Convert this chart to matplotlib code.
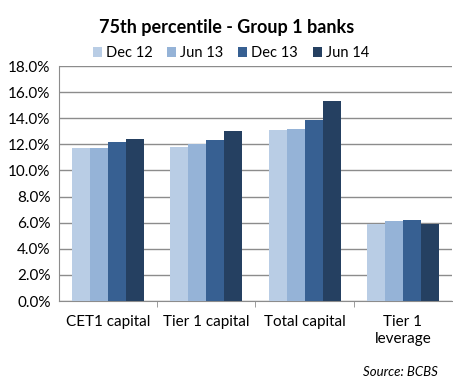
import numpy as np
import matplotlib
matplotlib.use("Agg")
import matplotlib.pyplot as plt

plt.rcParams['font.family'] = ['Lato', 'DejaVu Sans']

categories = ["CET1 capital", "Tier 1 capital", "Total capital", "Tier 1\nleverage"]
series = ["Dec 12", "Jun 13", "Dec 13", "Jun 14"]
dec12 = [11.7, 11.8, 13.1, 5.9]
jun13 = [11.7, 12.0, 13.2, 6.1]
dec13 = [12.2, 12.3, 13.9, 6.2]
jun14 = [12.4, 13.0, 15.3, 5.9]
values = [dec12, jun13, dec13, jun14]
colors = ["#b9cde5", "#95b3d7", "#376092", "#254061"]

fig = plt.figure(figsize=(4.53, 3.86), dpi=100)
ax = fig.add_axes([0.130, 0.220, 0.868, 0.609])

x = np.arange(len(categories))
w = 0.73 / 4
for i, (name, vals) in enumerate(zip(series, values)):
    ax.bar(x - 0.365 + w * (i + 0.5), vals, width=w, color=colors[i], label=name, zorder=3)

ax.set_xlim(-0.5, 3.5)
ax.set_ylim(0, 18)
ax.set_yticks(np.arange(0, 18.1, 2))
ax.set_yticklabels([f"{v:.1f}%" for v in np.arange(0, 18.1, 2)], fontsize=11)
ax.yaxis.grid(True, color="#8c8c8c", linewidth=1, zorder=0)
ax.tick_params(axis="y", length=0, pad=6)

ax.set_xticks(x)
ax.set_xticklabels(categories, fontsize=11, linespacing=1.25)
ax.set_xticks([0.5, 1.5, 2.5], minor=True)
ax.tick_params(axis="x", which="major", length=0, pad=10)
ax.tick_params(axis="x", which="minor", length=4, color="#8c8c8c")

for s in ["top", "right"]:
    ax.spines[s].set_visible(False)
ax.spines["left"].set_color("#8c8c8c")
ax.spines["bottom"].set_color("#8c8c8c")

fig.text(0.50, 0.93, "75th percentile - Group 1 banks", ha="center", va="center",
         fontsize=13, fontweight="bold")
fig.legend(loc="center", bbox_to_anchor=(0.51, 0.862), ncol=4, frameon=False,
           fontsize=10.5, handlelength=0.6, handleheight=0.6, handletextpad=0.3,
           columnspacing=1.0)
fig.text(0.967, 0.035, "Source: BCBS", ha="right", va="center", fontsize=9.5, style="italic")

fig.savefig("out.png", dpi=100)
